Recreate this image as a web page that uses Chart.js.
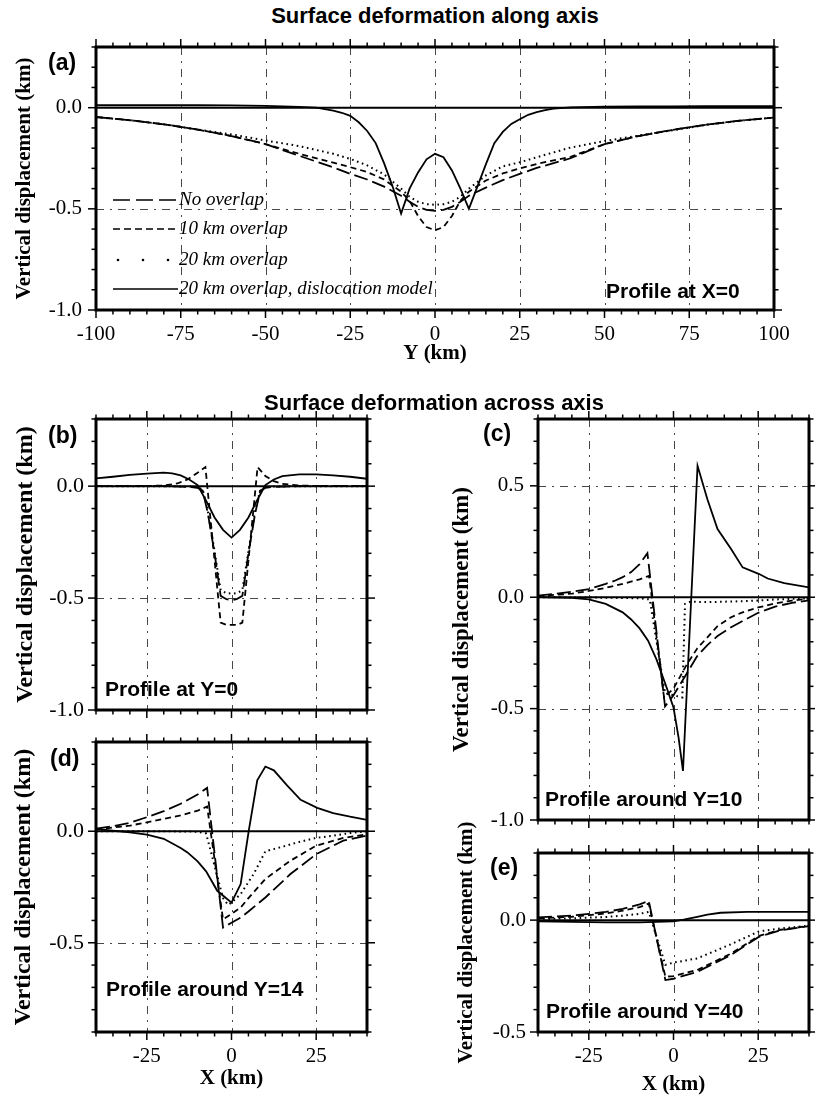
<!DOCTYPE html>
<html><head><meta charset="utf-8">
<script src="https://cdn.jsdelivr.net/npm/chart.js@4.4.1/dist/chart.umd.min.js"></script>
<style>
html,body{margin:0;padding:0;background:#fff;}
body{width:815px;height:1095px;position:relative;overflow:hidden;}
canvas{position:absolute;}
.t{position:absolute;font-family:'Liberation Sans',Arial,sans-serif;font-weight:bold;color:#000;white-space:nowrap;line-height:1;z-index:2;}
.c{transform:translate(-50%,-50%);}
.l{transform:translateY(-50%);}
</style></head><body>
<canvas id="ca" width="815" height="340" style="left:0;top:30px"></canvas>
<canvas id="cb" width="430" height="344" style="left:0;top:380px"></canvas>
<canvas id="cc" width="385" height="460" style="left:430px;top:380px"></canvas>
<canvas id="cd" width="430" height="375" style="left:0;top:720px"></canvas>
<canvas id="ce" width="385" height="280" style="left:430px;top:815px"></canvas>

<div class="t c" style="left:435px;top:16px;font-size:22px">Surface deformation along axis</div>
<div class="t c" style="left:434px;top:403px;font-size:22px">Surface deformation across axis</div>
<div class="t l" style="left:48px;top:62px;font-size:23px">(a)</div>
<div class="t l" style="left:48px;top:435px;font-size:23px">(b)</div>
<div class="t l" style="left:483px;top:433px;font-size:23px">(c)</div>
<div class="t l" style="left:50px;top:758px;font-size:23px">(d)</div>
<div class="t l" style="left:490px;top:867px;font-size:23px">(e)</div>
<div class="t l" style="left:606px;top:290px;font-size:21px">Profile at X=0</div>
<div class="t l" style="left:105px;top:688px;font-size:21px">Profile at Y=0</div>
<div class="t l" style="left:545px;top:798px;font-size:21px">Profile around Y=10</div>
<div class="t l" style="left:106px;top:988px;font-size:21px">Profile around Y=14</div>
<div class="t l" style="left:546px;top:1010px;font-size:21px">Profile around Y=40</div>

<script>
// ---------------- DATA ----------------
const SERIES_LABELS = ['No overlap', '10 km overlap', '20 km overlap', '20 km overlap, dislocation model'];

// Panel (a): profile at X=0, abscissa Y (km)
const A_ticksX = [-100, -75, -50, -25, 0, 25, 50, 75, 100];
const A_ticksY = [-1.0, -0.5, 0.0];
const A_x = [-100,-90,-80,-70,-60,-50,-40,-30,-25,-20,-15,-10,-7.5,-5,-2.5,0,2.5,5,7.5,10,15,20,25,30,40,50,60,70,80,90,100];
const A_noOverlap = [-0.046,-0.062,-0.082,-0.108,-0.14,-0.18,-0.238,-0.295,-0.327,-0.355,-0.39,-0.435,-0.465,-0.49,-0.505,-0.51,-0.505,-0.49,-0.465,-0.435,-0.395,-0.358,-0.327,-0.298,-0.25,-0.18,-0.14,-0.11,-0.084,-0.064,-0.049];
const A_10km = [-0.046,-0.062,-0.082,-0.108,-0.14,-0.18,-0.228,-0.272,-0.294,-0.318,-0.355,-0.415,-0.46,-0.535,-0.59,-0.606,-0.59,-0.535,-0.46,-0.415,-0.36,-0.325,-0.30,-0.278,-0.243,-0.18,-0.14,-0.11,-0.084,-0.064,-0.049];
const A_20km = [-0.046,-0.062,-0.082,-0.108,-0.132,-0.162,-0.19,-0.228,-0.253,-0.285,-0.33,-0.40,-0.44,-0.465,-0.477,-0.48,-0.477,-0.465,-0.44,-0.40,-0.335,-0.29,-0.27,-0.245,-0.197,-0.165,-0.138,-0.112,-0.085,-0.064,-0.049];
const A_dislocX = [-100,-90,-80,-70,-60,-50,-45,-40,-35,-30,-27.5,-25,-22.5,-20,-17.5,-15,-12.5,-10,-7.5,-5,-2.5,0,2.5,5,7.5,10,12.5,15,17.5,20,22.5,25,27.5,30,32.5,35,40,50,60,70,80,90,100];
const A_disloc = [0.012,0.012,0.012,0.012,0.011,0.009,0.007,0.004,0,-0.015,-0.025,-0.04,-0.072,-0.115,-0.175,-0.275,-0.39,-0.523,-0.40,-0.32,-0.255,-0.228,-0.245,-0.31,-0.40,-0.50,-0.39,-0.28,-0.175,-0.12,-0.08,-0.057,-0.035,-0.022,-0.012,-0.005,0.002,0.005,0.006,0.007,0.008,0.008,0.008];

// Panels (b)-(e): abscissa X (km)
const XS_ticksX = [-25, 0, 25];

// (b) profile at Y=0
const B_ticksY = [-1.0, -0.5, 0.0];
const B_noOverlapX = [-40,-30,-20,-15,-12,-10,-8.5,-7,-5,-3.2,-1.5,0,1.5,3.2,5,7,8.5,10,12,15,20,30,40];
const B_noOverlap  = [0,0,0,-0.002,-0.004,-0.008,-0.02,-0.12,-0.3,-0.49,-0.505,-0.51,-0.505,-0.49,-0.3,-0.12,-0.02,-0.008,-0.004,-0.002,0,0,0];
const B_10kmX = [-40,-30,-25,-20,-16,-13,-10,-7.7,-3.2,-1.5,0,1.5,3.2,7.7,10,12.5,15,20,25,30,40];
const B_10km  = [0,0,0.001,0.003,0.012,0.03,0.06,0.085,-0.61,-0.62,-0.62,-0.62,-0.61,0.085,0.045,0.022,0.01,0.003,0.001,0,0];
const B_20kmX = [-40,-20,-12,-10,-8.5,-7,-5,-3.2,-1.5,0,1.5,3.2,5,7,8.5,10,12,20,40];
const B_20km  = [0,0,-0.002,-0.005,-0.015,-0.11,-0.29,-0.465,-0.478,-0.48,-0.478,-0.465,-0.29,-0.11,-0.015,-0.005,-0.002,0,0];
const B_dislocX = [-40,-35,-30,-25,-20,-17.5,-15,-12.5,-10,-7.5,-5,-2.5,0,2.5,5,7.5,10,12.5,15,20,25,30,35,40];
const B_disloc  = [0.035,0.042,0.05,0.056,0.06,0.057,0.048,0.03,0.005,-0.065,-0.14,-0.195,-0.23,-0.195,-0.14,-0.065,0.005,0.03,0.045,0.053,0.053,0.048,0.042,0.033];

// (c) profile around Y=10
const C_ticksY = [-1.0, -0.5, 0.0, 0.5];
const C_noOverlapX = [-40,-35,-30,-25,-20,-17.5,-15,-12.5,-10,-7.7,-2.5,0,2,4,7,10,13,17,20,25,30,35,40];
const C_noOverlap  = [0.007,0.015,0.025,0.036,0.06,0.073,0.09,0.113,0.148,0.198,-0.49,-0.44,-0.39,-0.34,-0.264,-0.215,-0.174,-0.135,-0.11,-0.07,-0.042,-0.025,-0.014];
const C_10kmX = [-40,-30,-25,-20,-15,-10,-7.2,-2.8,0,4,7,10,13,17,20,25,30,35,40];
const C_10km  = [0.005,0.016,0.028,0.042,0.06,0.08,0.096,-0.45,-0.41,-0.3,-0.23,-0.18,-0.13,-0.09,-0.07,-0.046,-0.028,-0.015,-0.006];
const C_20kmX = [-40,-20,-10,-7,-5,-2.5,0,2.6,3.4,5,10,15,20,25,30,40];
const C_20km  = [0,-0.002,-0.005,-0.01,-0.2,-0.43,-0.44,-0.45,-0.03,-0.02,-0.022,-0.02,-0.018,-0.015,-0.01,-0.005];
const C_dislocX = [-40,-30,-25,-20,-15,-12.5,-10,-7.5,-5,-2.5,0,1.5,2.8,7.1,10,13,17,20.4,25.3,27.8,32.7,40];
const C_disloc  = [0,-0.003,-0.01,-0.03,-0.068,-0.1,-0.14,-0.195,-0.28,-0.385,-0.495,-0.63,-0.78,0.59,0.44,0.306,0.216,0.134,0.104,0.084,0.063,0.044];

// (d) profile around Y=14
const D_ticksY = [-0.5, 0.0];
const D_noOverlapX = [-40,-35,-30,-25,-20,-15,-10,-7.2,-2.5,0,2.7,5,10,17.4,25,33,40];
const D_noOverlap  = [0.012,0.022,0.038,0.063,0.09,0.123,0.165,0.194,-0.432,-0.41,-0.387,-0.36,-0.297,-0.192,-0.103,-0.042,-0.019];
const D_10kmX = [-40,-30,-25,-20,-15,-10,-7.2,-2.5,0,2.7,5,10,17.4,25,33,40];
const D_10km  = [0.008,0.025,0.04,0.055,0.071,0.092,0.111,-0.395,-0.37,-0.342,-0.3,-0.214,-0.132,-0.065,-0.03,-0.014];
const D_20kmX = [-40,-20,-10,-7.5,-2.5,-1,0,2.7,6.6,10,15.4,20,25,30,35,40];
const D_20km  = [0,0,-0.002,-0.01,-0.3,-0.33,-0.32,-0.282,-0.19,-0.09,-0.068,-0.048,-0.03,-0.02,-0.008,0];
const D_dislocX = [-40,-30,-25,-20,-15,-13,-10,-7.5,-4.2,-2,0,2.7,5.1,7.6,10,12.5,16.4,20.4,25.3,30,35,40];
const D_disloc  = [0.01,-0.005,-0.015,-0.034,-0.075,-0.095,-0.135,-0.18,-0.267,-0.295,-0.32,-0.237,0.003,0.228,0.29,0.273,0.206,0.141,0.105,0.081,0.065,0.051];

// (e) profile around Y=40
const E_ticksY = [-0.5, 0.0];
const E_x = [-40,-30,-25,-20,-15,-10,-7.3,-2.4,0,7,16.9,25.3,31.7,40];
const E_noOverlap = [0.012,0.02,0.028,0.037,0.05,0.07,0.086,-0.268,-0.262,-0.231,-0.156,-0.074,-0.045,-0.027];
const E_10km      = [0.008,0.015,0.022,0.03,0.042,0.058,0.074,-0.253,-0.25,-0.223,-0.15,-0.07,-0.043,-0.026];
const E_20km      = [0.005,0.008,0.011,0.014,0.02,0.028,0.037,-0.2,-0.19,-0.171,-0.108,-0.05,-0.037,-0.025];
const E_dislocX = [-40,-30,-20,-10,-5,0,3,7,10,13.9,21.8,30,40];
const E_disloc  = [-0.005,-0.008,-0.01,-0.01,-0.008,-0.005,0.002,0.015,0.025,0.033,0.037,0.037,0.037];

// ---------------- STYLE ----------------
const FS = "'Liberation Serif','Times New Roman',serif";
const STY = [
  {w: 1.8, dash: [14, 5]},
  {w: 1.8, dash: [6, 4]},
  {w: 2.0, dash: [1.6, 3.6]},
  {w: 1.8, dash: []}
];

function makeGmt(p) {
  return {
    id: 'gmt',
    beforeDatasetsDraw(chart) {
      const {ctx, chartArea: a, scales: {x, y}} = chart;
      ctx.save();
      ctx.strokeStyle = '#333'; ctx.lineWidth = 0.9; ctx.setLineDash([8, 6, 2, 6]);
      p.gridX.forEach(v => { const px = Math.round(x.getPixelForValue(v)) + 0.5;
        ctx.beginPath(); ctx.moveTo(px, a.top); ctx.lineTo(px, a.bottom); ctx.stroke(); });
      p.gridY.forEach(v => { const py = Math.round(y.getPixelForValue(v)) + 0.5;
        ctx.beginPath(); ctx.moveTo(a.left, py); ctx.lineTo(a.right, py); ctx.stroke(); });
      ctx.setLineDash([]); ctx.strokeStyle = '#000'; ctx.lineWidth = 2;
      const pz = y.getPixelForValue(0);
      ctx.beginPath(); ctx.moveTo(a.left, pz); ctx.lineTo(a.right, pz); ctx.stroke();
      ctx.restore();
    },
    afterDraw(chart) {
      const {ctx, chartArea: a, scales: {x, y}} = chart;
      ctx.save();
      ctx.strokeStyle = '#000'; ctx.setLineDash([]);
      ctx.lineWidth = 3;
      ctx.strokeRect(a.left, a.top, a.right - a.left, a.bottom - a.top);
      ctx.lineWidth = 1.5;
      const seg = (x0, y0, x1, y1) => { ctx.beginPath(); ctx.moveTo(x0, y0); ctx.lineTo(x1, y1); ctx.stroke(); };
      const nx = Math.round((x.max - x.min) / p.xMinor);
      for (let i = 0; i <= nx; i++) {
        const v = x.min + i * p.xMinor;
        const major = Math.abs(v / p.xMajor - Math.round(v / p.xMajor)) < 1e-6;
        const L = major ? 8 : 4.5;
        const px = x.getPixelForValue(v);
        seg(px, a.bottom, px, a.bottom + L);
        seg(px, a.top, px, a.top - L);
      }
      const ny = Math.round((y.max - y.min) / p.yMinor);
      for (let i = 0; i <= ny; i++) {
        const v = y.min + i * p.yMinor;
        const major = Math.abs(v / p.yMajor - Math.round(v / p.yMajor)) < 1e-6;
        const L = major ? 8 : 4.5;
        const py = y.getPixelForValue(v);
        seg(a.left, py, a.left - L, py);
        seg(a.right, py, a.right + L, py);
      }
      if (p.legend) {
        const lg = p.legend;
        ctx.font = "italic 19px " + FS;
        ctx.fillStyle = '#000';
        ctx.textBaseline = 'middle';
        chart.data.datasets.forEach((ds, i) => {
          const yy = a.top + lg.rows[i];
          const x0 = a.left + lg.x0, x1 = a.left + lg.x1;
          ctx.lineWidth = 1.7;
          if (i === 2) {
            [5, 30, 55].forEach(d => { ctx.beginPath(); ctx.arc(x0 + d, yy, 1.3, 0, Math.PI * 2); ctx.fill(); });
          } else {
            ctx.setLineDash(lg.dash[i]);
            seg(x0, yy, x1, yy);
            ctx.setLineDash([]);
          }
          ctx.fillText(ds.label, x1 + 1, yy);
        });
      }
      ctx.restore();
    }
  };
}

function build(id, p) {
  const datasets = p.series.map((s, i) => ({
    label: SERIES_LABELS[i],
    data: s[0].map((v, k) => ({x: v, y: s[1][k]})),
    showLine: true, pointRadius: 0, pointHoverRadius: 0,
    borderColor: '#000', backgroundColor: '#000',
    borderWidth: STY[i].w, borderDash: STY[i].dash, fill: false, tension: 0
  }));
  new Chart(document.getElementById(id), {
    type: 'scatter',
    data: {datasets},
    plugins: [makeGmt(p)],
    options: {
      responsive: false, animation: false, devicePixelRatio: 1,
      events: [],
      layout: {padding: {left: 0, top: p.padTop, right: p.padRight, bottom: 0}},
      plugins: {legend: {display: false}, tooltip: {enabled: false}},
      scales: {
        x: {
          type: 'linear', min: p.xMin, max: p.xMax,
          afterBuildTicks: s => { s.ticks = p.xTicks.map(v => ({value: v})); },
          afterFit: s => { s.height = p.xH; },
          grid: {display: false, drawTicks: true, tickLength: 12},
          border: {display: false},
          ticks: {display: p.showX, padding: 0, maxRotation: 0, autoSkip: false, color: '#000',
                  font: {family: FS, size: 21}, callback: v => String(v)},
          title: {display: p.showX, text: p.xTitle, color: '#000',
                  font: {family: FS, size: 21, weight: 'bold', lineHeight: 1},
                  padding: {top: 0, bottom: p.xTitlePad}}
        },
        y: {
          type: 'linear', min: p.yMin, max: p.yMax,
          afterBuildTicks: s => { s.ticks = p.yTicks.map(v => ({value: v})); },
          afterFit: s => { s.width = p.yW; },
          grid: {display: false, drawTicks: true, tickLength: p.yTickGap},
          border: {display: false},
          ticks: {padding: 0, color: '#000', font: {family: FS, size: p.yTickSize},
                  callback: v => Number(v).toFixed(1)},
          title: {display: true, text: 'Vertical displacement (km)', color: '#000',
                  font: {family: FS, size: p.yTitleSize, weight: 'bold', lineHeight: 1},
                  padding: {top: p.yTitlePad, bottom: 0}}
        }
      }
    }
  });
}

build('ca', {
  xMin: -100, xMax: 100, yMin: -1.0, yMax: 0.3, xTicks: A_ticksX, yTicks: A_ticksY,
  showX: true, xTitle: 'Y (km)', padTop: 17, padRight: 41, yW: 96, xH: 60, yTitlePad: 14.5, xTitlePad: 5.5,
  yTitleSize: 21, yTickSize: 21, yTickGap: 14,
  xMinor: 5, xMajor: 25, yMinor: 0.1, yMajor: 0.5,
  gridX: [-75, -50, -25, 0, 25, 50, 75], gridY: [-0.5],
  legend: {x0: 17, x1: 82, rows: [153, 182, 213, 242], dash: [[17, 6], [7, 4], [], []]},
  series: [[A_x, A_noOverlap], [A_x, A_10km], [A_x, A_20km], [A_dislocX, A_disloc]]
});
build('cb', {
  xMin: -40, xMax: 40, yMin: -1.0, yMax: 0.3, xTicks: XS_ticksX, yTicks: B_ticksY,
  showX: false, xTitle: 'X (km)', padTop: 39, padRight: 63, yW: 96, xH: 14, yTitlePad: 14, xTitlePad: 0,
  yTitleSize: 24, yTickSize: 22, yTickGap: 12,
  xMinor: 5, xMajor: 25, yMinor: 0.1, yMajor: 0.5,
  gridX: [-25, 0, 25], gridY: [-0.5],
  series: [[B_noOverlapX, B_noOverlap], [B_10kmX, B_10km], [B_20kmX, B_20km], [B_dislocX, B_disloc]]
});
build('cc', {
  xMin: -40, xMax: 40, yMin: -1.0, yMax: 0.8, xTicks: XS_ticksX, yTicks: C_ticksY,
  showX: false, xTitle: 'X (km)', padTop: 39, padRight: 6, yW: 108, xH: 20, yTitlePad: 21, xTitlePad: 0,
  yTitleSize: 23, yTickSize: 21, yTickGap: 14,
  xMinor: 5, xMajor: 25, yMinor: 0.1, yMajor: 0.5,
  gridX: [-25, 0, 25], gridY: [0.5, -0.5],
  series: [[C_noOverlapX, C_noOverlap], [C_10kmX, C_10km], [C_20kmX, C_20km], [C_dislocX, C_disloc]]
});
build('cd', {
  xMin: -40, xMax: 40, yMin: -0.9, yMax: 0.4, xTicks: XS_ticksX, yTicks: D_ticksY,
  showX: true, xTitle: 'X (km)', padTop: 22, padRight: 63, yW: 96, xH: 63, yTitlePad: 12, xTitlePad: 5.5,
  yTitleSize: 24, yTickSize: 22, yTickGap: 12,
  xMinor: 5, xMajor: 25, yMinor: 0.1, yMajor: 0.5,
  gridX: [-25, 0, 25], gridY: [-0.5],
  series: [[D_noOverlapX, D_noOverlap], [D_10kmX, D_10km], [D_20kmX, D_20km], [D_dislocX, D_disloc]]
});
build('ce', {
  xMin: -40, xMax: 40, yMin: -0.5, yMax: 0.3, xTicks: XS_ticksX, yTicks: E_ticksY,
  showX: true, xTitle: 'X (km)', padTop: 38, padRight: 6, yW: 108, xH: 63, yTitlePad: 26.5, xTitlePad: 0,
  yTitleSize: 21, yTickSize: 21, yTickGap: 12,
  xMinor: 5, xMajor: 25, yMinor: 0.1, yMajor: 0.5,
  gridX: [-25, 0, 25], gridY: [],
  series: [[E_x, E_noOverlap], [E_x, E_10km], [E_x, E_20km], [E_dislocX, E_disloc]]
});
</script>
</body></html>
